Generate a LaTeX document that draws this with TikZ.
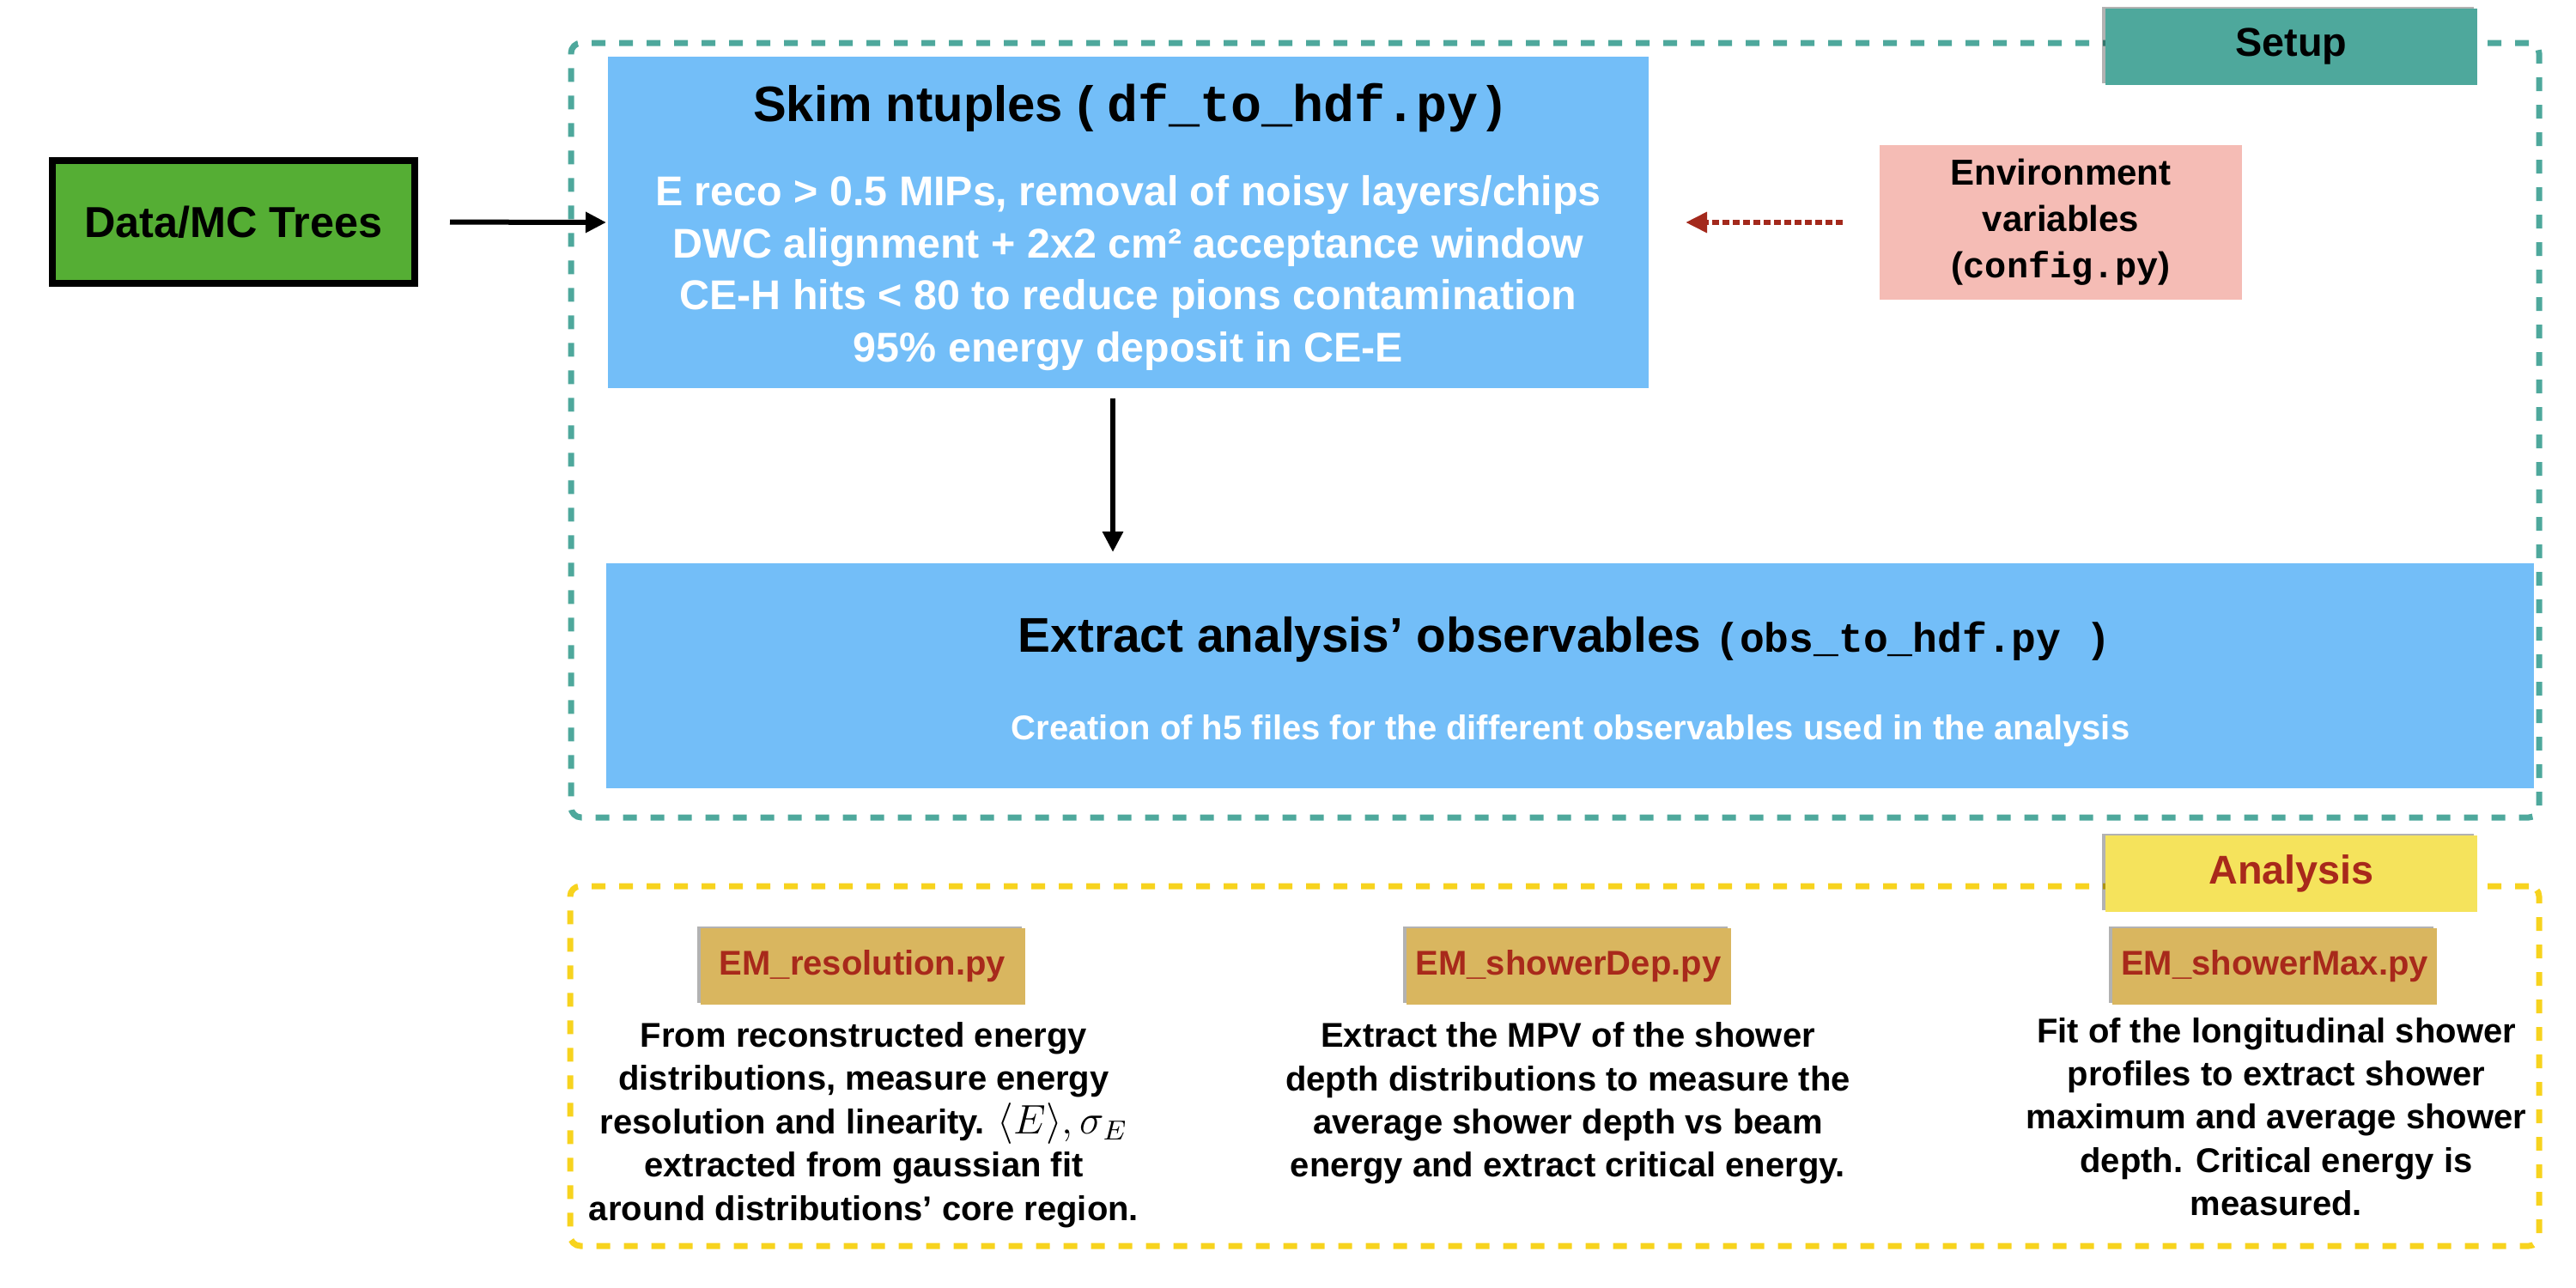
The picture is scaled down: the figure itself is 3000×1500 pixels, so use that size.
\documentclass[tikz,border=0pt]{standalone}
\usepackage{fontspec}
\setmainfont{Liberation Sans}
\setmonofont{Liberation Mono}
\usetikzlibrary{arrows.meta,shadows,calc}
\definecolor{mcgreen}{HTML}{55AE34}
\definecolor{skyblue}{HTML}{73BEF8}
\definecolor{tealc}{HTML}{4EA89C}
\definecolor{pinkc}{HTML}{F5BCB5}
\definecolor{arrowred}{HTML}{A3291C}
\definecolor{dashyellow}{HTML}{F7D31E}
\definecolor{labelyellow}{HTML}{F5E35C}
\definecolor{scriptgold}{HTML}{D9B65F}
\definecolor{textred}{HTML}{A8291B}
\begin{document}
\begin{tikzpicture}[x=0.25pt,y=-0.25pt,
  every node/.style={inner sep=0pt, outer sep=0pt},
  bluebox/.style={fill=skyblue},
  groupbox/.style={line width=1.75pt, dash pattern=on 4pt off 4pt, rounded corners=3pt},
  softshadow/.style={drop shadow={shadow xshift=-1pt, shadow yshift=0.4pt, fill=black, opacity=0.3}},
  tagbox/.style={softshadow, minimum width=108.25pt, minimum height=22.25pt, font=\bfseries\fontsize{11.7}{14}\selectfont},
  scriptbox/.style={softshadow, fill=scriptgold, minimum width=94.5pt, minimum height=22.25pt, text=textred, font=\bfseries\fontsize{10}{12}\selectfont},
  desc/.style={align=center, font=\bfseries\fontsize{10}{12.6}\selectfont},
  flow/.style={line width=1.5pt, -{Triangle[length=6pt,width=5.75pt]}}
]
\useasboundingbox (0,0) rectangle (3000,1500);

% group frames
\node[draw=tealc, groupbox, minimum width=573pt, minimum height=225.5pt] (setupbox) at (1811,501) {};
\node[draw=dashyellow, groupbox, minimum width=573.25pt, minimum height=104.75pt] (anabox) at (1810.5,1241.5) {};

% input
\node[draw=black, line width=2pt, fill=mcgreen, minimum width=105.5pt, minimum height=35.75pt,
      font=\bfseries\fontsize{12.6}{15}\selectfont] (data) at (272,258.5) {Data/MC Trees};

% skim box
\node[bluebox, minimum width=303pt, minimum height=96.5pt] (skim) at (1314,259) {};
\node[font=\bfseries\fontsize{14.5}{17}\selectfont] (skimtitle) at (1314,126)
  {Skim ntuples ( {\ttfamily\fontsize{15}{17}\selectfont df\_to\_hdf.py}\,)};
\node[text=white, align=center, font=\bfseries\fontsize{12.1}{15.2}\selectfont] (skimbody) at (1314,318)
  {E reco > 0.5 MIPs, removal of noisy layers/chips\\DWC alignment + 2x2 cm² acceptance window\\CE-H hits < 80 to reduce pions contamination\\95\% energy deposit in CE-E};

% environment
\node[fill=pinkc, minimum width=105.5pt, minimum height=45pt, align=center,
      font=\bfseries\fontsize{10.5}{13.5}\selectfont] (env) at (2400,259)
  {Environment\\variables\\({\ttfamily config.py})};

% extract box
\node[bluebox, minimum width=561.25pt, minimum height=65.5pt] (extract) at (1828.5,787) {};
\node[font=\bfseries\fontsize{14.2}{17}\selectfont] (extitle) at (1822,745)
  {Extract analysis’ observables {\ttfamily\fontsize{12}{14}\selectfont (obs\_to\_hdf.py )}};
\node[text=white, font=\bfseries\fontsize{10}{12}\selectfont] (exsub) at (1829,851)
  {Creation of h5 files for the different observables used in the analysis};

% labels
\node[tagbox, fill=tealc] (setup) at (2668.5,54.5) {Setup};
\node[tagbox, fill=labelyellow, text=textred] (analysis) at (2668.5,1017.5) {Analysis};

% scripts
\node[scriptbox] (res) at (1004.5,1125.5) {EM\_resolution.py};
\node[scriptbox] (dep) at (1826.5,1125.5) {EM\_showerDep.py};
\node[scriptbox] (max) at (2649,1125.5) {EM\_showerMax.py};

\node[desc] (resdesc) at (1006,1310)
  {From reconstructed energy\\distributions, measure energy\\resolution and linearity. {\fontsize{11.5}{12.6}\selectfont$\smash{\langle E\rangle, \sigma_E}$}\\extracted from gaussian fit\\around distributions’ core region.};
\node[desc] (depdesc) at (1826,1285)
  {Extract the MPV of the shower\\depth distributions to measure the\\average shower depth vs beam\\energy and extract critical energy.};
\node[desc] (maxdesc) at (2651,1308)
  {Fit of the longitudinal shower\\profiles to extract shower\\maximum and average shower\\depth. Critical energy is\\measured.\strut};

% connectors
\draw[flow, shorten <=10.25pt, shorten >=0.5pt] (data.east) -- (skim.west);
\draw[arrowred, line width=1.5pt, dash pattern=on 2pt off 1pt,
      -{Triangle[length=6.25pt,width=5.75pt]}, shorten <=10.75pt, shorten >=10.75pt] (env.west) -- (skim.east);
\coordinate (dtop) at ($(skim.south)+(-18,0)$);
\draw[flow, shorten <=3pt, shorten >=3.25pt] (dtop) -- (dtop |- extract.north);
\end{tikzpicture}
\end{document}
